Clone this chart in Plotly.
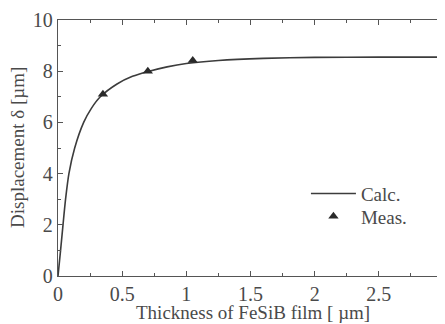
import plotly.graph_objects as go

calc_x = [0, 0.02, 0.039, 0.059, 0.085, 0.13, 0.2, 0.26, 0.33, 0.46, 0.58, 0.71, 0.85, 1.0, 1.25, 1.6, 2.0, 2.5, 3.0]
calc_y = [0, 1.0, 2.0, 3.0, 4.0, 5.0, 6.0, 6.55, 7.0, 7.5, 7.8, 8.0, 8.17, 8.3, 8.42, 8.5, 8.54, 8.55, 8.55]
meas_x = [0.35, 0.70, 1.05]
meas_y = [7.1, 8.0, 8.42]

x_ticks = [0, 0.5, 1, 1.5, 2, 2.5, 3]
x_labels = ["0", "0.5", "1", "1.5", "2", "2.5", "3"]
y_ticks = [0, 2, 4, 6, 8, 10]

ink = "#3c3c3c"
fam = "Liberation Serif, Times New Roman, serif"
font = dict(family=fam, size=20, color="#4a4a4a")
title_font = dict(family=fam, size=19, color="#4a4a4a")
legend_font = dict(family=fam, size=19, color="#4a4a4a")

fig = go.Figure()
fig.add_trace(go.Scatter(x=calc_x, y=calc_y, mode="lines", name="Calc.", legend="legend",
                         showlegend=True,
                         line=dict(color=ink, width=1.6, shape="spline", smoothing=0.7)))
fig.add_trace(go.Scatter(x=meas_x, y=meas_y, mode="markers", name="Meas.", legend="legend2",
                         showlegend=True,
                         marker=dict(symbol="triangle-up", size=9, color="#2a2a2a")))

axis_common = dict(showline=True, linecolor="#555", linewidth=1.3, mirror="ticks",
                   ticks="inside", ticklen=5, tickcolor="#555", tickwidth=1.2,
                   showgrid=False, zeroline=False, tickfont=font, automargin=False,
                   ticklabeloverflow="allow")
fig.update_xaxes(range=[0, 3], tickvals=x_ticks, ticktext=x_labels,
                 minor=dict(ticks="inside", ticklen=3, dtick=0.25, tickcolor="#555", showgrid=False),
                 **axis_common)
fig.update_yaxes(range=[0, 10], tickvals=y_ticks,
                 minor=dict(ticks="inside", ticklen=3, dtick=1, tickcolor="#555", showgrid=False),
                 **axis_common)

fig.add_annotation(text="Thickness of FeSiB film [ µm]", xref="paper", yref="paper",
                   x=0.506, y=-0.143, xanchor="center", yanchor="middle", showarrow=False,
                   font=title_font)
fig.add_annotation(text="Displacement δ [µm]", xref="paper", yref="paper", textangle=-90,
                   x=-0.104, y=0.504, xanchor="center", yanchor="middle", showarrow=False,
                   font=title_font)

leg_common = dict(xanchor="left", yanchor="top", font=legend_font,
                  bgcolor="rgba(0,0,0,0)", itemwidth=45, visible=True)
fig.update_layout(width=445, height=324, margin=dict(l=50, r=10, t=12, b=56),
                  plot_bgcolor="white", paper_bgcolor="white", showlegend=True,
                  legend=dict(x=0.644, y=0.396, **leg_common),
                  legend2=dict(x=0.644, y=0.307, **leg_common))
fig.write_html("out.html")
